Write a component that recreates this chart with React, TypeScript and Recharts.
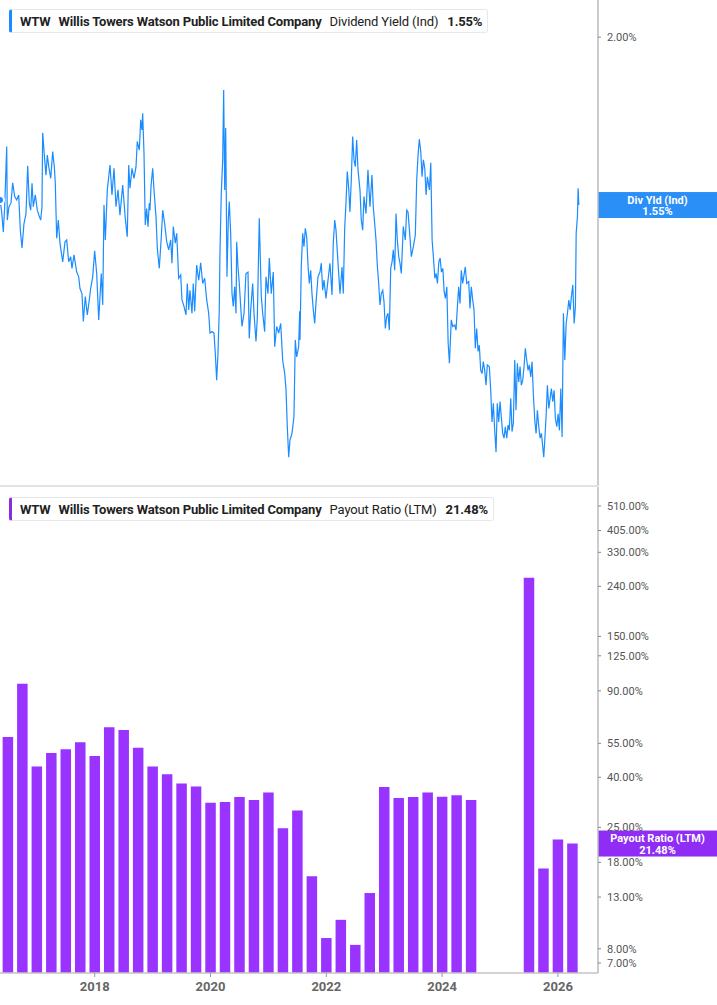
import React from 'react'
import { LineChart, Line, BarChart, Bar, XAxis, YAxis, ReferenceLine } from 'recharts'

const FONT = 'Roboto, "Noto Sans", sans-serif'
const BLUE = '#1a8cff'
const PURPLE = '#9933ff'

const ticker = 'WTW'
const company = 'Willis Towers Watson Public Limited Company'

// Dividend Yield (Ind), % — [decimal year, value]
const yieldSeries: [number, number][] = [
  [2016.364, 1.562], [2016.393, 1.534], [2016.421, 1.488], [2016.445, 1.546], [2016.48, 1.694], [2016.49, 1.515],
  [2016.519, 1.546], [2016.554, 1.555], [2016.583, 1.603], [2016.618, 1.57], [2016.652, 1.562], [2016.687, 1.574],
  [2016.715, 1.492], [2016.744, 1.452], [2016.778, 1.507], [2016.813, 1.53], [2016.842, 1.645], [2016.87, 1.554],
  [2016.894, 1.538], [2016.917, 1.602], [2016.939, 1.546], [2016.974, 1.574], [2017.008, 1.538], [2017.043, 1.523],
  [2017.067, 1.515], [2017.089, 1.546], [2017.101, 1.73], [2017.136, 1.66], [2017.158, 1.622], [2017.181, 1.672],
  [2017.21, 1.639], [2017.24, 1.614], [2017.274, 1.681], [2017.302, 1.643], [2017.319, 1.602], [2017.343, 1.474],
  [2017.371, 1.515], [2017.4, 1.463], [2017.447, 1.422], [2017.487, 1.466], [2017.516, 1.47], [2017.55, 1.422],
  [2017.585, 1.433], [2017.607, 1.408], [2017.642, 1.437], [2017.689, 1.4], [2017.723, 1.39], [2017.746, 1.365],
  [2017.78, 1.355], [2017.803, 1.299], [2017.837, 1.349], [2017.872, 1.312], [2017.906, 1.342], [2017.93, 1.366],
  [2017.965, 1.39], [2017.999, 1.446], [2018.034, 1.397], [2018.069, 1.302], [2018.091, 1.349], [2018.113, 1.397],
  [2018.138, 1.332], [2018.16, 1.55], [2018.183, 1.47], [2018.217, 1.586], [2018.264, 1.647], [2018.298, 1.574],
  [2018.333, 1.639], [2018.367, 1.546], [2018.402, 1.586], [2018.436, 1.526], [2018.483, 1.598], [2018.528, 1.519],
  [2018.562, 1.477], [2018.587, 1.647], [2018.609, 1.59], [2018.644, 1.639], [2018.678, 1.614], [2018.713, 1.643],
  [2018.735, 1.707], [2018.77, 1.685], [2018.794, 1.764], [2018.816, 1.737], [2018.828, 1.782], [2018.851, 1.677],
  [2018.873, 1.504], [2018.897, 1.542], [2018.92, 1.5], [2018.942, 1.554],
  [2018.954, 1.538], [2018.972, 1.594], [2019.001, 1.639], [2019.024, 1.586], [2019.058, 1.523], [2019.081, 1.452],
  [2019.115, 1.408], [2019.15, 1.477], [2019.174, 1.538], [2019.208, 1.507], [2019.243, 1.466], [2019.277, 1.448],
  [2019.312, 1.47], [2019.334, 1.419], [2019.357, 1.5], [2019.391, 1.463], [2019.416, 1.485], [2019.45, 1.387],
  [2019.485, 1.394], [2019.507, 1.342], [2019.542, 1.329], [2019.576, 1.312], [2019.599, 1.376], [2019.623, 1.322],
  [2019.645, 1.362], [2019.68, 1.315], [2019.702, 1.376], [2019.726, 1.319], [2019.761, 1.415], [2019.796, 1.383],
  [2019.83, 1.42], [2019.865, 1.376], [2019.899, 1.387], [2019.934, 1.342], [2019.968, 1.315], [2019.991, 1.276],
  [2020.025, 1.279], [2020.06, 1.276], [2020.082, 1.238], [2020.106, 1.188], [2020.129, 1.238], [2020.151, 1.322],
  [2020.163, 1.441], [2020.186, 1.578], [2020.21, 1.66], [2020.227, 1.846], [2020.245, 1.586], [2020.262, 1.742],
  [2020.284, 1.39], [2020.307, 1.515], [2020.324, 1.558], [2020.348, 1.485], [2020.371, 1.355], [2020.393, 1.329],
  [2020.417, 1.369], [2020.44, 1.315], [2020.452, 1.466], [2020.474, 1.411], [2020.497, 1.376], [2020.521, 1.329],
  [2020.543, 1.289], [2020.578, 1.315], [2020.612, 1.397], [2020.647, 1.4], [2020.669, 1.266], [2020.694, 1.322],
  [2020.728, 1.376], [2020.751, 1.315], [2020.785, 1.26], [2020.808, 1.305], [2020.842, 1.519], [2020.877, 1.349],
  [2020.901, 1.315], [2020.935, 1.279], [2020.958, 1.39], [2020.992, 1.355], [2021.015, 1.43], [2021.049, 1.355],
  [2021.084, 1.4], [2021.108, 1.25], [2021.143, 1.289], [2021.177, 1.276], [2021.212, 1.295], [2021.246, 1.225],
  [2021.281, 1.2], [2021.303, 1.173], [2021.326, 1.107], [2021.35, 1.057], [2021.372, 1.085], [2021.407, 1.096],
  [2021.441, 1.124], [2021.464, 1.263], [2021.488, 1.231], [2021.522, 1.25], [2021.54, 1.319],
  [2021.545, 1.263], [2021.567, 1.411], [2021.592, 1.485], [2021.614, 1.455], [2021.637, 1.496], [2021.661, 1.477],
  [2021.683, 1.415], [2021.706, 1.376], [2021.73, 1.404], [2021.752, 1.355], [2021.775, 1.322], [2021.799, 1.295],
  [2021.821, 1.335], [2021.856, 1.39], [2021.89, 1.4], [2021.913, 1.419], [2021.937, 1.362], [2021.96, 1.383],
  [2021.994, 1.345], [2022.029, 1.383], [2022.063, 1.419], [2022.098, 1.352], [2022.12, 1.463], [2022.145, 1.515],
  [2022.167, 1.492], [2022.202, 1.419], [2022.236, 1.355], [2022.271, 1.411], [2022.293, 1.355], [2022.317, 1.496],
  [2022.339, 1.554], [2022.362, 1.631], [2022.386, 1.59], [2022.408, 1.534], [2022.431, 1.61], [2022.455, 1.72],
  [2022.478, 1.66], [2022.5, 1.643], [2022.524, 1.711], [2022.547, 1.635], [2022.581, 1.586], [2022.604, 1.515],
  [2022.628, 1.492], [2022.65, 1.57], [2022.685, 1.53], [2022.719, 1.635], [2022.754, 1.546], [2022.788, 1.622],
  [2022.811, 1.546], [2022.835, 1.507], [2022.858, 1.47], [2022.88, 1.415], [2022.904, 1.376], [2022.927, 1.332],
  [2022.949, 1.355], [2022.974, 1.362], [2022.996, 1.339], [2023.019, 1.285], [2023.043, 1.309], [2023.065, 1.315],
  [2023.088, 1.282], [2023.112, 1.408], [2023.135, 1.422], [2023.157, 1.448], [2023.181, 1.404], [2023.204, 1.53],
  [2023.226, 1.47], [2023.251, 1.433], [2023.272, 1.419], [2023.295, 1.397], [2023.329, 1.5], [2023.364, 1.47],
  [2023.388, 1.538], [2023.411, 1.534], [2023.433, 1.496], [2023.468, 1.433], [2023.503, 1.455], [2023.537, 1.481],
  [2023.561, 1.61], [2023.584, 1.672], [2023.606, 1.713], [2023.631, 1.681], [2023.653, 1.618], [2023.676, 1.66],
  [2023.7, 1.639], [2023.723, 1.574], [2023.745, 1.618], [2023.78, 1.586], [2023.804, 1.653], [2023.827, 1.47],
  [2023.849, 1.433], [2023.874, 1.387], [2023.896, 1.397], [2023.919, 1.376], [2023.943, 1.422], [2023.965, 1.43],
  [2023.988, 1.4], [2024.012, 1.408], [2024.035, 1.359], [2024.057, 1.345], [2024.081, 1.369], [2024.104, 1.257],
  [2024.126, 1.219],
  [2024.158, 1.302], [2024.183, 1.289], [2024.217, 1.292], [2024.24, 1.282], [2024.262, 1.325], [2024.286, 1.369],
  [2024.309, 1.335], [2024.331, 1.404], [2024.355, 1.376], [2024.378, 1.394], [2024.4, 1.411], [2024.425, 1.376],
  [2024.459, 1.38], [2024.481, 1.325], [2024.504, 1.369], [2024.528, 1.342], [2024.551, 1.322], [2024.573, 1.247],
  [2024.597, 1.285], [2024.62, 1.241], [2024.642, 1.253], [2024.666, 1.206], [2024.689, 1.2], [2024.711, 1.222],
  [2024.735, 1.206], [2024.758, 1.179], [2024.78, 1.216], [2024.815, 1.213], [2024.839, 1.17], [2024.861, 1.115],
  [2024.884, 1.147], [2024.908, 1.101], [2024.931, 1.065], [2024.953, 1.147], [2024.977, 1.115], [2025.0, 1.15],
  [2025.022, 1.124], [2025.046, 1.096], [2025.069, 1.088], [2025.091, 1.107], [2025.116, 1.088], [2025.138, 1.11],
  [2025.16, 1.101], [2025.185, 1.156], [2025.207, 1.099], [2025.23, 1.113], [2025.254, 1.225], [2025.276, 1.135],
  [2025.299, 1.219], [2025.323, 1.185], [2025.346, 1.213], [2025.368, 1.179], [2025.392, 1.188], [2025.415, 1.213],
  [2025.437, 1.247], [2025.461, 1.225], [2025.484, 1.206], [2025.506, 1.216], [2025.531, 1.194], [2025.553, 1.222],
  [2025.576, 1.162], [2025.6, 1.118], [2025.623, 1.096], [2025.645, 1.135], [2025.669, 1.107], [2025.692, 1.088],
  [2025.714, 1.096], [2025.738, 1.074], [2025.755, 1.057], [2025.773, 1.085], [2025.795, 1.124], [2025.818, 1.179],
  [2025.842, 1.138], [2025.865, 1.156], [2025.887, 1.173], [2025.911, 1.15], [2025.934, 1.17], [2025.956, 1.121],
  [2025.98, 1.107], [2026.003, 1.129], [2026.025, 1.101], [2026.05, 1.173], [2026.072, 1.09], [2026.095, 1.315],
  [2026.119, 1.225], [2026.142, 1.295], [2026.164, 1.315], [2026.188, 1.342], [2026.211, 1.322], [2026.233, 1.349],
  [2026.257, 1.373], [2026.28, 1.295], [2026.302, 1.329], [2026.315, 1.485], [2026.337, 1.523], [2026.349, 1.59],
  [2026.361, 1.55],
]

// Payout Ratio (LTM), % per quarter end (negative quarters not shown on log axis)
const payoutQuarters = [
  2016.5, 2016.75, 2017, 2017.25, 2017.5, 2017.75, 2018, 2018.25, 2018.5, 2018.75,
  2019, 2019.25, 2019.5, 2019.75, 2020, 2020.25, 2020.5, 2020.75, 2021, 2021.25,
  2021.5, 2021.75, 2022, 2022.25, 2022.5, 2022.75, 2023, 2023.25, 2023.5, 2023.75,
  2024, 2024.25, 2024.5, 2025.5, 2025.75, 2026, 2026.25,
]
const payoutValues = [
  58.4, 96.2, 44.3, 50.2, 52.0, 55.5, 48.8, 63.9, 62.3, 52.8,
  44.2, 41.1, 37.7, 36.7, 31.5, 31.7, 33.2, 32.3, 34.7, 24.8,
  29.3, 15.8, 8.85, 10.5, 8.3, 13.5, 36.5, 32.9, 33.2, 34.7,
  33.3, 33.8, 32.3, 260, 17.0, 22.3, 21.48,
]

const yearTicks = [2018, 2020, 2022, 2024, 2026]
const yieldTicks = [2]
const payoutTicks = [7, 8, 13, 18, 25, 40, 55, 90, 125, 150, 240, 330, 405, 510]

const X_DOMAIN: [number, number] = [2016.364, 2026.692]

const yieldData = yieldSeries.map(([t, v]) => ({ t, v }))
const payoutData = payoutQuarters.map((t, i) => ({ t, v: payoutValues[i] }))

const lastYield = yieldSeries[yieldSeries.length - 1][1]
const lastPayout = payoutValues[payoutValues.length - 1]

const pct = (v: number) => `${v.toFixed(2)}%`

const axisTick = { fill: '#555', fontSize: 11, fontFamily: FONT }

function sideLabel(title: string, value: string, color: string) {
  return (props: any) => {
    const vb = props.viewBox || {}
    const x = (vb.x || 0) + (vb.width || 0)
    const y = vb.y || 0
    return (
      <g>
        <rect x={x} y={y - 13} width={119} height={26} fill={color} />
        <text x={x + 59.5} y={y - 1.5} textAnchor="middle" fill="#fff" fontSize={11} fontWeight={700} fontFamily={FONT}>
          {title}
        </text>
        <text x={x + 59.5} y={y + 10} textAnchor="middle" fill="#fff" fontSize={11} fontWeight={700} fontFamily={FONT}>
          {value}
        </text>
      </g>
    )
  }
}

function LegendBox({ top, color, metric, value }: { top: number; color: string; metric: string; value: string }) {
  return (
    <div
      style={{
        position: 'absolute', left: 9, top, height: 24, boxSizing: 'border-box',
        border: '1px solid #e8e8e8', borderLeft: `3px solid ${color}`, borderRadius: 3,
        background: '#fff', display: 'flex', alignItems: 'center',
        paddingLeft: 8, paddingRight: 5, fontFamily: FONT, fontSize: 13, color: '#222',
        whiteSpace: 'nowrap', letterSpacing: -0.15,
      }}
    >
      <b>{ticker}</b>
      <b style={{ marginLeft: 8 }}>{company}</b>
      <span style={{ marginLeft: 8 }}>{metric}</span>
      <b style={{ marginLeft: 9 }}>{value}</b>
    </div>
  )
}

export default function App() {
  return (
    <div style={{ position: 'absolute', left: 0, top: 0, width: 717, height: 1005, background: '#fff', overflow: 'hidden' }}>
      <div style={{ position: 'absolute', left: 0, top: 0 }}>
        <LineChart width={717} height={486} data={yieldData} margin={{ top: 0, right: 0, bottom: 0, left: 0 }}>
          <XAxis dataKey="t" type="number" domain={X_DOMAIN} allowDataOverflow hide />
          <YAxis
            orientation="right"
            scale="log"
            domain={[1.0118, 2.116]}
            allowDataOverflow
            ticks={yieldTicks}
            interval={0}
            tickFormatter={pct}
            width={119}
            tick={axisTick}
            tickSize={3}
            tickMargin={6}
            axisLine={{ stroke: '#bbbbbb', strokeWidth: 1.5 }}
            tickLine={{ stroke: '#888' }}
          />
          <Line
            type="linear"
            dataKey="v"
            stroke={BLUE}
            strokeWidth={1.2}
            dot={false}
            isAnimationActive={false}
          />
          <ReferenceLine y={lastYield} stroke="none" label={sideLabel('Div Yld (Ind)', pct(lastYield), '#2a8ff7')} />
        </LineChart>
      </div>
      <div style={{ position: 'absolute', left: 0, top: 485, width: 598, height: 2, background: '#e3e3e3' }} />
      <div style={{ position: 'absolute', left: 0, top: 487 }}>
        <BarChart width={717} height={518} data={payoutData} margin={{ top: 0, right: 0, bottom: 0, left: 0 }} barSize={10.5}>
          <XAxis
            dataKey="t"
            type="number"
            domain={X_DOMAIN}
            allowDataOverflow
            ticks={yearTicks}
            interval={0}
            height={32}
            tick={{ fill: '#666', fontSize: 13, fontWeight: 700, fontFamily: FONT }}
            tickSize={4}
            tickMargin={5}
            axisLine={{ stroke: '#c4c4c4', strokeWidth: 1.5 }}
            tickLine={{ stroke: '#999' }}
          />
          <YAxis
            orientation="right"
            scale="log"
            domain={[6.375, 609.2]}
            allowDataOverflow
            ticks={payoutTicks}
            interval={0}
            tickFormatter={pct}
            width={119}
            tick={axisTick}
            tickSize={3}
            tickMargin={6}
            axisLine={{ stroke: '#bbbbbb', strokeWidth: 1.5 }}
            tickLine={{ stroke: '#888' }}
          />
          <Bar dataKey="v" fill={PURPLE} isAnimationActive={false} />
          <ReferenceLine y={lastPayout} stroke="none" label={sideLabel('Payout Ratio (LTM)', pct(lastPayout), '#8f2df5')} />
        </BarChart>
      </div>
      <LegendBox top={9} color={BLUE} metric="Dividend Yield (Ind)" value={pct(lastYield)} />
      <LegendBox top={497} color="#8a2be2" metric="Payout Ratio (LTM)" value={pct(lastPayout)} />
    </div>
  )
}
